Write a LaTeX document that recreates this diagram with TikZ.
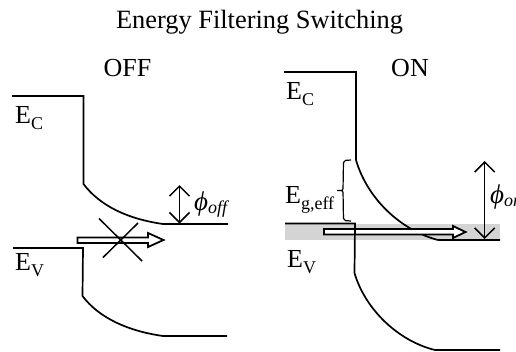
\documentclass[tikz,border=0pt]{standalone}
\usepackage{fontspec}
\setmainfont{Liberation Serif}
\usetikzlibrary{arrows.meta}
\tikzset{
  band/.style={line width=1.7pt},
  lab/.style={font=\fontsize{26}{26}\selectfont,anchor=base west,inner sep=0pt},
  ttl/.style={font=\fontsize{26.4}{28}\selectfont,anchor=base,inner sep=0pt},
  big/.style={font=\fontsize{26}{28}\selectfont,anchor=base,inner sep=0pt},
  phil/.style={anchor=base west,inner sep=0pt,font=\fontsize{27}{27}\selectfont\itshape},
  hollow/.style={line width=1.8pt,fill=white,line join=miter},
  dbl/.style={line width=1.5pt,{Straight Barb[length=10pt,width=20pt,line width=1.5pt]}-{Straight Barb[length=10pt,width=20pt,line width=1.5pt]}},
  cross/.style={line width=1.5pt},
}
\newcommand{\subl}[1]{\raisebox{-6pt}{\fontsize{18}{18}\selectfont #1}}
\newcommand{\subp}[1]{\raisebox{-3pt}{\fontsize{18}{18}\selectfont #1}}
\begin{document}
\begin{tikzpicture}[x=1pt,y=-1pt]
\useasboundingbox (0,0) rectangle (516,351);
\clip (0,0) rectangle (516,351);
\fill[white] (0,0) rectangle (516,351);
% titles
\node[ttl] (title) at (259.5,28) {Energy Filtering Switching};
\node[big] (off) at (127.5,76) {OFF};
\node[big] (on) at (410,76) {ON};
% left bands
\draw[band] (12,96) -- (83.5,96) -- (83.5,184) .. controls (100,206) and (128,219) .. (163,224) -- (228,224);
\draw[band] (13,248) -- (83,248) -- (82.5,296) .. controls (99,318) and (128,331) .. (163,336) -- (227,336);
\node[lab] (ecl) at (15,123) {E\subl{C}};
\node[lab] (evl) at (15,270) {E\subl{V}};
% left hollow arrow
\draw[hollow] (77.5,237.5) -- (148,237.5) -- (148,233) -- (163.5,240) -- (148,247) -- (148,243) -- (77.5,243) -- cycle;
\draw[cross] (99,218.5) -- (142,261);
\draw[cross] (138,223) -- (103,257.5);
% phi off
\coordinate (offT) at (179.5,185);
\coordinate (offB) at (179.5,223.5);
\draw[dbl] (offT) -- (offB);
\node[phil] (phioff) at (194,210) {ϕ\subp{off}};
% right: grey band
\fill[black!17] (285,224) rectangle (500,240);
% right bands
\draw[band] (284,72) -- (356,72) -- (356,160) .. controls (367,198) and (400,230) .. (438,240) -- (500,240);
\draw[band] (285,223.5) -- (355,223.5) -- (354.5,273) .. controls (365,309) and (398,341) .. (435,350) -- (500,350);
\node[lab] (ecr) at (286,99) {E\subl{C}};
\node[lab] (evr) at (287,267) {E\subl{V}};
\node[lab] (eg) at (285,203) {E\subl{g,eff}};
% brace
\draw[line width=1.2pt,rounded corners=2pt] (351,160) -- (343.5,160.5) -- (343,190.5) -- (336,190.5) -- (343,190.5) -- (343.5,220.5) -- (351,221);
% right hollow arrow
\draw[hollow] (324,229) -- (453,229) -- (453,226) -- (465.5,232) -- (453,238) -- (453,234.5) -- (324,234.5) -- cycle;
\draw[line width=1.5pt] (355,229) -- (355,234.5);
% phi on
\coordinate (onT) at (484.7,161);
\coordinate (onB) at (484.7,239);
\draw[dbl] (onT) -- (onB);
\node[phil] (phion) at (490,203) {ϕ\subp{on}};
\end{tikzpicture}
\end{document}
